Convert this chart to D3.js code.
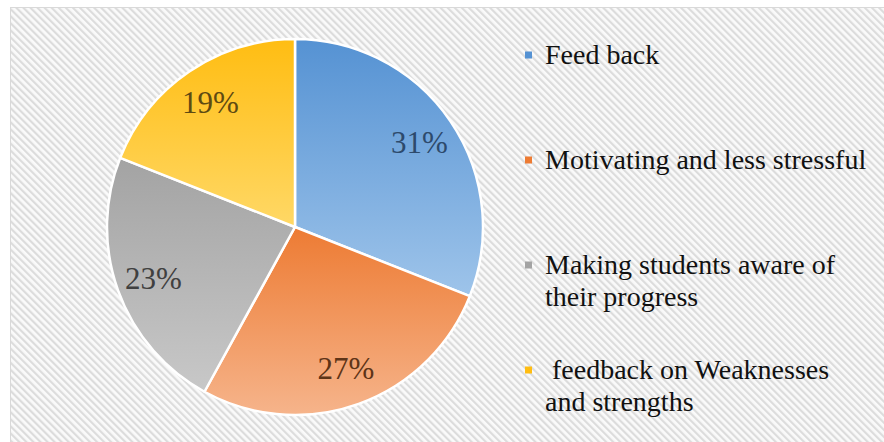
<!DOCTYPE html>
<html>
<head>
<meta charset="utf-8">
<script src="https://cdn.jsdelivr.net/npm/d3@7.9.0/dist/d3.min.js"></script>
<style>
  html, body { margin: 0; padding: 0; background: #fff; }
  svg { display: block; }
  text { font-family: 'Liberation Serif', serif; }
</style>
</head>
<body>
<svg id="chart" width="884" height="442"></svg>
<script>
// ---- data ----
const categories = [
  'Feed back',
  'Motivating and less stressful',
  'Making students aware of their progress',
  ' feedback on Weaknesses and strengths'
];
const shares = [31, 27, 23, 19];
// legend text split into lines as in the picture
const legendLines = [
  ['Feed back'],
  ['Motivating and less stressful'],
  ['Making students aware of', 'their progress'],
  ['\u00a0feedback on Weaknesses', 'and strengths']
];

const topColors = ['#5592d3', '#ed7b33', '#a3a3a3', '#ffbd12'];
const bottomColors = ['#9ec4ea', '#f6b48b', '#c8c8c8', '#ffd866'];
const labelColors = ['#2d4a6c', '#5e3417', '#404040', '#5e4a12'];

const W = 884, H = 442;
const cx = 295, cy = 227, R = 188;

const svg = d3.select('#chart');
const defs = svg.append('defs');

// diagonal hatch background
const hatch = defs.append('pattern')
  .attr('id', 'hatch')
  .attr('patternUnits', 'userSpaceOnUse')
  .attr('width', 5).attr('height', 5)
  .attr('patternTransform', 'rotate(-45)');
hatch.append('rect').attr('width', 5).attr('height', 5).attr('fill', '#fafafa');
hatch.append('rect').attr('width', 2.2).attr('height', 5).attr('fill', '#dcdcdc');

svg.append('rect')
  .attr('x', 10.5).attr('y', 7.5)
  .attr('width', W).attr('height', H)
  .attr('fill', 'url(#hatch)')
  .attr('stroke', '#d9d9d9');

// gradients per slice
categories.forEach((c, i) => {
  const g = defs.append('linearGradient')
    .attr('id', 'grad' + i)
    .attr('x1', 0).attr('y1', 0).attr('x2', 0).attr('y2', 1);
  g.append('stop').attr('offset', '0%').attr('stop-color', topColors[i]);
  g.append('stop').attr('offset', '100%').attr('stop-color', bottomColors[i]);
});

const data = categories.map((c, i) => ({ label: c, value: shares[i], i }));

const pie = d3.pie().value(d => d.value).sort(null);
const arcs = pie(data);
const arc = d3.arc().innerRadius(0).outerRadius(R);
const labelArc = d3.arc().innerRadius(R * 0.8).outerRadius(R * 0.8);

const g = svg.append('g').attr('transform', `translate(${cx},${cy})`);

g.selectAll('path')
  .data(arcs)
  .join('path')
  .attr('d', arc)
  .attr('fill', d => `url(#grad${d.data.i})`)
  .attr('stroke', '#fff')
  .attr('stroke-width', 2.5)
  .attr('stroke-linejoin', 'round');

g.selectAll('text.pct')
  .data(arcs)
  .join('text')
  .attr('class', 'pct')
  .attr('transform', d => `translate(${labelArc.centroid(d)})`)
  .attr('text-anchor', 'middle')
  .attr('dy', '0.35em')
  .attr('font-size', 31)
  .attr('fill', d => labelColors[d.data.i])
  .text(d => d.data.value + '%');

// ---- legend ----
const legendY = d3.scalePoint()
  .domain(d3.range(categories.length))
  .range([55, 370]);

const legend = svg.append('g');
const item = legend.selectAll('g')
  .data(data)
  .join('g')
  .attr('transform', d => `translate(525,${legendY(d.i)})`);

item.append('rect')
  .attr('x', 0).attr('y', -3.5)
  .attr('width', 7).attr('height', 7)
  .attr('fill', d => topColors[d.i]);

item.append('text')
  .attr('x', 20)
  .attr('y', 9)
  .attr('font-size', 28)
  .attr('fill', '#111')
  .selectAll('tspan')
  .data(d => legendLines[d.i])
  .join('tspan')
  .attr('x', 20)
  .attr('dy', (d, j) => j === 0 ? 0 : 32)
  .text(d => d);
</script>
</body>
</html>
